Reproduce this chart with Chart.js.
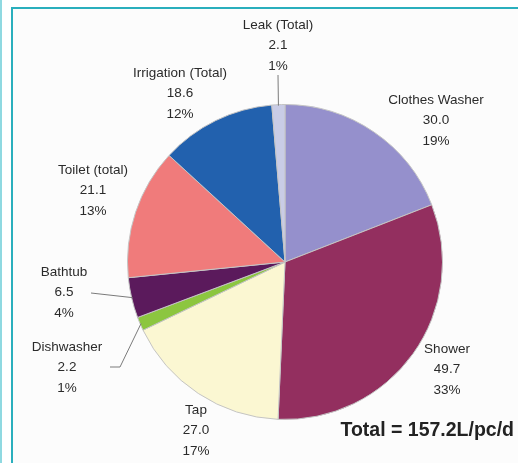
<!DOCTYPE html>
<html>
<head>
<meta charset="utf-8">
<script src="https://cdn.jsdelivr.net/npm/chart.js@4/dist/chart.umd.min.js"></script>
<style>
html, body { margin: 0; padding: 0; background: #fff; }
#frame { position: absolute; left: 0; top: 0; width: 518px; height: 463px; }
#stripe { position: absolute; left: 0; top: 0; width: 2px; height: 463px; background: #8fd9e1; }
#box { position: absolute; left: 11px; top: 7px; width: 507px; height: 456px; border-left: 2px solid #2aafbd; border-top: 2px solid #2aafbd; background: #fcfcfc; }
#chart { position: absolute; left: 0; top: 0; }
</style>
</head>
<body>
<div id="frame">
  <div id="stripe"></div>
  <div id="box"></div>
  <canvas id="chart" width="518" height="463"></canvas>
</div>
<script>
// data
let categories = ['Clothes Washer', 'Shower', 'Tap', 'Dishwasher', 'Bathtub', 'Toilet (total)', 'Irrigation (Total)', 'Leak (Total)']
let litres = [30.0, 49.7, 27.0, 2.2, 6.5, 21.1, 18.6, 2.1]
let percents = ['19%', '33%', '17%', '1%', '4%', '13%', '12%', '1%']
let totalLabel = 'Total = 157.2L/pc/d'

let sliceColors = ['#9590cc', '#932f5f', '#fbf7d2', '#8cc63f', '#5b1a5c', '#f07b7b', '#2261ae', '#c9cce6']

// label placement (centre of text block, first line), leader = draw a line to the slice
let labelSpots = [
    { x: 436, y: 100, leader: null },
    { x: 447, y: 349, leader: null },
    { x: 196, y: 410, leader: null },
    { x: 67, y: 347, leader: [[110, 367], [120, 367]] },
    { x: 64, y: 272, leader: [[91, 293]] },
    { x: 93, y: 170, leader: null },
    { x: 180, y: 73, leader: null },
    { x: 278, y: 25, leader: [[278, 75]] }
]

let labelPlugin = {
    id: 'pieLabels',
    afterDraw(chart)
    {
        let ctx = chart.ctx
        let arcs = chart.getDatasetMeta(0).data
        ctx.save()
        ctx.fillStyle = '#2b2b2b'
        ctx.font = '13.5px "Liberation Sans", Arial, sans-serif'
        ctx.textAlign = 'center'
        ctx.textBaseline = 'middle'
        for (let i = 0; i < categories.length; i++)
        {
            let spot = labelSpots[i]
            ctx.fillText(categories[i], spot.x, spot.y)
            ctx.fillText(litres[i].toFixed(1), spot.x, spot.y + 20.5)
            ctx.fillText(percents[i], spot.x, spot.y + 41)

            if (spot.leader)
            {
                let arc = arcs[i]
                let mid = (arc.startAngle + arc.endAngle) / 2
                let ex = arc.x + Math.cos(mid) * (arc.outerRadius - 1)
                let ey = arc.y + Math.sin(mid) * (arc.outerRadius - 1)
                ctx.strokeStyle = '#7a7a7a'
                ctx.lineWidth = 1
                ctx.beginPath()
                ctx.moveTo(spot.leader[0][0], spot.leader[0][1])
                for (let k = 1; k < spot.leader.length; k++)
                    ctx.lineTo(spot.leader[k][0], spot.leader[k][1])
                ctx.lineTo(ex, ey)
                ctx.stroke()
            }
        }
        ctx.fillStyle = '#222'
        ctx.font = 'bold 19.5px "Liberation Sans", Arial, sans-serif'
        ctx.textAlign = 'right'
        ctx.fillText(totalLabel, 514, 431)
        ctx.restore()
    }
}

let pieChart = new Chart(document.getElementById('chart').getContext('2d'), {
    type: 'pie',
    data: {
        labels: categories,
        datasets: [{
            data: litres,
            backgroundColor: sliceColors,
            borderColor: '#c4c4c4',
            borderWidth: 1
        }]
    },
    options: {
        responsive: false,
        animation: false,
        layout: {
            padding: { left: 127, right: 75, top: 104, bottom: 43 }
        },
        plugins: {
            legend: { display: false },
            tooltip: { enabled: false }
        }
    },
    plugins: [labelPlugin]
})
</script>
</body>
</html>
